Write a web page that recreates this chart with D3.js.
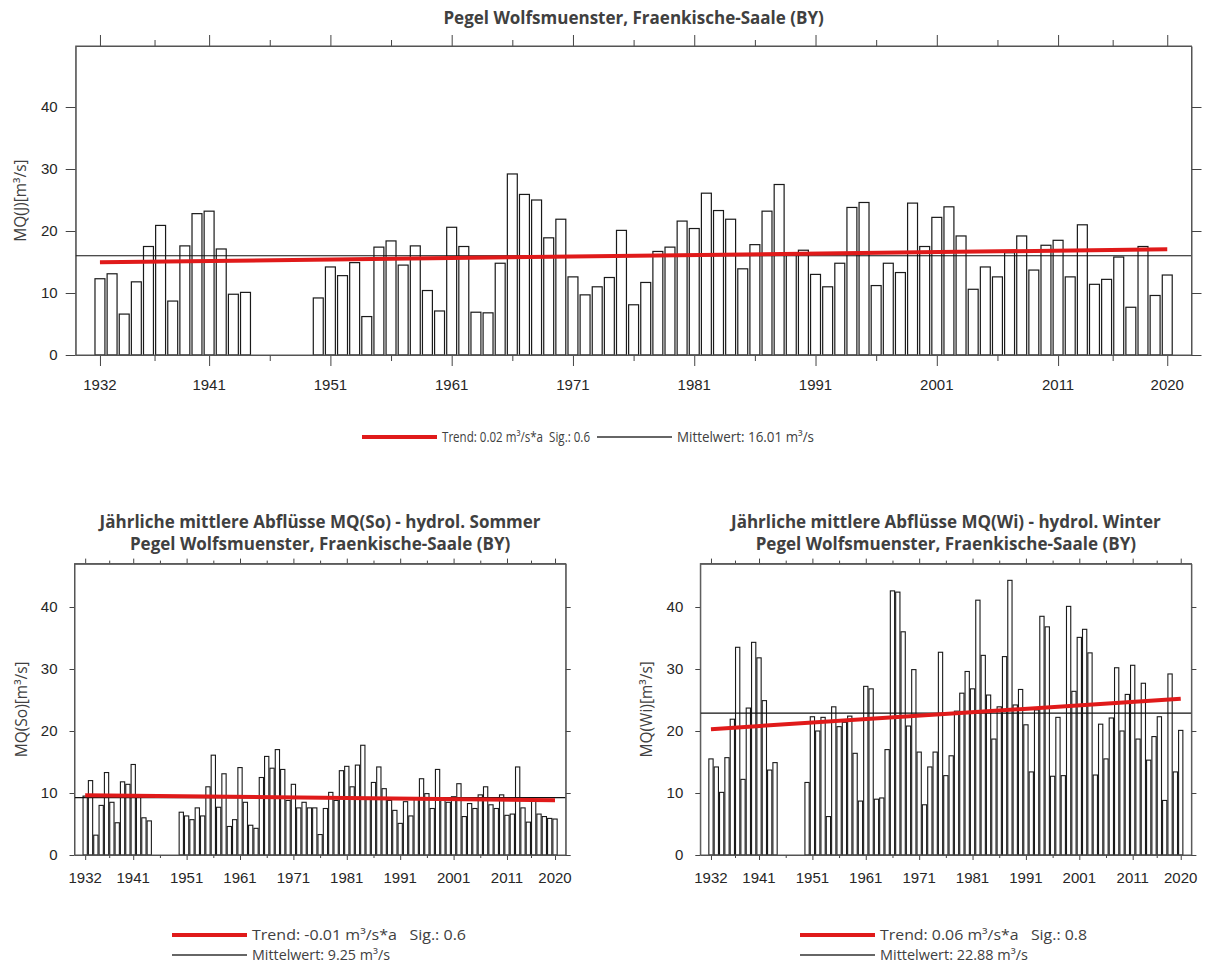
<!DOCTYPE html>
<html><head><meta charset="utf-8">
<script src="https://cdn.jsdelivr.net/npm/d3@7/dist/d3.min.js"></script>
<style>
body{margin:0;background:#fff;}
svg text{font-family:"Liberation Sans",Arial,sans-serif;}
.ttl{font-family:"Open Sans",sans-serif;font-weight:bold;fill:#404040;}
.leg{font-family:"Open Sans",sans-serif;fill:#404040;white-space:pre;}
.yt{font-family:"Open Sans",sans-serif;fill:#404040;}
</style></head><body>
<svg id="c" width="1209" height="967"></svg>
<script>
const years = [1932,1933,1934,1935,1936,1937,1938,1939,1940,1941,1942,1943,1944,
1950,1951,1952,1953,1954,1955,1956,1957,1958,1959,1960,1961,1962,1963,1964,1965,1966,1967,1968,1969,
1970,1971,1972,1973,1974,1975,1976,1977,1978,1979,1980,1981,1982,1983,1984,1985,1986,1987,1988,1989,
1990,1991,1992,1993,1994,1995,1996,1997,1998,1999,2000,2001,2002,2003,2004,2005,2006,2007,2008,2009,
2010,2011,2012,2013,2014,2015,2016,2017,2018,2019,2020];
const mqJ = [12.3,13.1,6.6,11.8,17.5,20.9,8.7,17.6,22.8,23.2,17.1,9.8,10.1,
9.2,14.2,12.8,14.9,6.2,17.4,18.4,14.5,17.6,10.4,7.1,20.6,17.5,6.9,6.8,14.8,29.2,25.9,25.0,18.9,
21.9,12.6,9.7,11.0,12.5,20.1,8.1,11.7,16.7,17.4,21.6,20.4,26.1,23.3,21.9,13.9,17.8,23.2,27.5,16.4,
16.9,13.0,11.0,14.8,23.8,24.6,11.2,14.8,13.3,24.5,17.5,22.2,23.9,19.2,10.6,14.2,12.6,16.5,19.2,13.7,
17.7,18.5,12.6,21.0,11.4,12.2,15.8,7.7,17.5,9.6,12.9];
const mqSo = [9.5,12.0,3.2,8.0,13.3,8.5,5.2,11.8,11.4,14.6,9.5,6.0,5.5,
6.9,6.3,5.7,7.6,6.3,11.0,16.1,7.7,13.1,4.6,5.7,14.1,8.5,4.8,4.3,12.5,15.9,14.0,17.0,13.8,
8.8,11.4,7.6,8.5,7.6,7.6,3.3,7.5,10.1,8.8,13.6,14.3,11.0,14.5,17.7,9.1,11.7,14.2,10.7,8.8,
7.2,5.1,8.6,6.3,9.1,12.3,9.9,7.5,13.8,9.1,8.5,9.4,11.5,6.2,8.3,7.5,9.7,11.0,8.1,7.5,
9.7,6.4,6.6,14.2,7.6,5.3,8.7,6.6,6.2,5.9,5.8];
const mqWi = [15.5,14.2,10.1,15.7,21.9,33.5,12.2,23.7,34.3,31.8,24.9,13.7,14.9,
11.7,22.3,20.0,22.2,6.2,23.9,20.7,21.4,22.4,16.4,8.7,27.2,26.8,9.0,9.2,17.0,42.6,42.4,36.0,20.8,
29.9,16.6,8.1,14.2,16.6,32.7,12.8,16.0,23.2,26.1,29.6,26.8,41.1,32.2,25.8,18.7,23.9,32.0,44.3,24.2,
26.7,21.0,13.4,23.4,38.5,36.8,12.7,22.2,12.8,40.1,26.4,35.1,36.4,32.6,12.9,21.1,15.5,22.1,30.2,20.0,
25.9,30.6,18.7,27.7,15.3,19.1,22.3,8.8,29.2,13.4,20.1];
const trendYears = [1932, 2020];
const trendJ = [14.95, 17.05];
const trendSo = [9.65, 8.85];
const trendWi = [20.3, 25.2];
const meanJ = 16.01, meanSo = 9.25, meanWi = 22.88;
const xMajor = [1932,1941,1951,1961,1971,1981,1991,2001,2011,2020];
const xMinor = [1936.5,1946,1956,1966,1976,1986,1996,2006,2015.5];
const yTicks = [0,10,20,30,40];
const titleTop = "Pegel Wolfsmuenster, Fraenkische-Saale (BY)";
const titleSo = ["Jährliche mittlere Abflüsse MQ(So) - hydrol. Sommer","Pegel Wolfsmuenster, Fraenkische-Saale (BY)"];
const titleWi = ["Jährliche mittlere Abflüsse MQ(Wi) - hydrol. Winter","Pegel Wolfsmuenster, Fraenkische-Saale (BY)"];
const legJ = ["Trend: 0.02 m³/s*a  Sig.: 0.6","Mittelwert: 16.01 m³/s"];
const legSo = ["Trend: -0.01 m³/s*a   Sig.: 0.6","Mittelwert: 9.25 m³/s"];
const legWi = ["Trend: 0.06 m³/s*a   Sig.: 0.8","Mittelwert: 22.88 m³/s"];

const svg = d3.select("#c");
const RED = "#e01a1a";

function panel(o){
  const x = d3.scaleLinear().domain([1930,2022]).range([o.x0,o.x1]);
  const y = d3.scaleLinear().domain([0,o.ymax]).range([o.yb,o.yt]);
  const g = svg.append("g");
  const step = x(1933)-x(1932);
  const bw = step*o.bwf;
  g.selectAll("rect.bar").data(o.vals).enter().append("rect")
    .attr("x",(d,i)=>x(years[i])-bw/2).attr("y",d=>y(d))
    .attr("width",bw).attr("height",d=>y(0)-y(d))
    .attr("fill","#fff").attr("stroke","#1a1a1a").attr("stroke-width",o.sw);
  const mk = (axis, tr, size, ticks)=>{
    const a = g.append("g").attr("transform",tr)
      .call(axis.tickValues(ticks).tickSize(size).tickSizeOuter(0).tickFormat(""));
    a.select(".domain").attr("stroke","#555");
    a.selectAll(".tick line").attr("stroke","#444");
    return a;
  };
  mk(d3.axisBottom(x),`translate(0,${o.yb})`,o.tMaj,xMajor);
  mk(d3.axisBottom(x),`translate(0,${o.yb})`,o.tMin,xMinor);
  mk(d3.axisTop(x),`translate(0,${o.yt})`,o.tMaj,xMajor);
  mk(d3.axisTop(x),`translate(0,${o.yt})`,o.tMin,xMinor);
  mk(d3.axisLeft(y),`translate(${o.x0},0)`,o.tY,yTicks);
  mk(d3.axisRight(y),`translate(${o.x1},0)`,o.tY,yTicks);
  g.selectAll("text.xl").data(xMajor).enter().append("text")
    .attr("x",d=>x(d)).attr("y",o.yb+o.xlabDy).attr("text-anchor","middle")
    .attr("font-size",15).attr("fill","#262626").text(d=>d);
  g.selectAll("text.yl").data(yTicks).enter().append("text")
    .attr("x",o.x0-o.ylabDx).attr("y",d=>y(d)+5).attr("text-anchor","end")
    .attr("font-size",15).attr("fill","#262626").text(d=>d);
  g.append("text").attr("class","yt").attr("transform",`translate(${o.x0-o.ytitDx},${(o.yb+o.yt)/2}) rotate(-90)`)
    .attr("text-anchor","middle").attr("font-size",15.5).text(o.ytitle);
  g.append("line").attr("x1",o.x0).attr("x2",o.x1).attr("y1",y(o.mean)).attr("y2",y(o.mean))
    .attr("stroke","#111").attr("stroke-width",1.2);
  g.append("line").attr("x1",x(trendYears[0])).attr("x2",x(trendYears[1]))
    .attr("y1",y(o.trend[0])).attr("y2",y(o.trend[1]))
    .attr("stroke",RED).attr("stroke-width",4);
  g.append("rect").attr("x",o.x0).attr("y",o.yt).attr("width",o.x1-o.x0).attr("height",o.yb-o.yt)
    .attr("fill","none").attr("stroke","#555").attr("stroke-width",1);
  o.title.forEach((t,i)=>g.append("text").attr("class","ttl").attr("x",(o.x0+o.x1)/2)
    .attr("y",o.titleY+i*22).attr("text-anchor","middle").attr("font-size",17).text(t));
  return {x,y,g};
}

panel({x0:75.7,x1:1191.5,yb:355,yt:46,ymax:49.84,vals:mqJ,bwf:0.82,sw:1.2,tMaj:11,tMin:6,tY:10,
  xlabDy:35,ylabDx:18,ytitDx:50,ytitle:"MQ(J)[m³/s]",mean:meanJ,trend:trendJ,title:[titleTop],titleY:24});
panel({x0:74.5,x1:565.7,yb:855,yt:563.6,ymax:47,vals:mqSo,bwf:0.8,sw:1.1,tMaj:5,tMin:3,tY:5,
  xlabDy:28,ylabDx:17,ytitDx:48,ytitle:"MQ(So)[m³/s]",mean:meanSo,trend:trendSo,title:titleSo,titleY:528});
panel({x0:700.3,x1:1191.4,yb:855,yt:563.6,ymax:47,vals:mqWi,bwf:0.8,sw:1.1,tMaj:5,tMin:3,tY:5,
  xlabDy:28,ylabDx:17,ytitDx:48,ytitle:"MQ(Wi)[m³/s]",mean:meanWi,trend:trendWi,title:titleWi,titleY:528});

function legItem(xl, yl, red, txt, fs, tl){
  svg.append("line").attr("x1",xl).attr("x2",xl+75).attr("y1",yl).attr("y2",yl)
    .attr("stroke",red?RED:"#333").attr("stroke-width",red?4:1.3);
  svg.append("text").attr("class","leg").attr("x",xl+80).attr("y",yl+5)
    .attr("font-size",fs).attr("textLength",tl).attr("lengthAdjust","spacingAndGlyphs").text(txt);
}
legItem(362,437,true,legJ[0],14,148);
legItem(597,437,false,legJ[1],14,137);
legItem(172,935,true,legSo[0],14,214);
legItem(172,955,false,legSo[1],14,138);
legItem(800,935,true,legWi[0],14,207);
legItem(800,955,false,legWi[1],14,148);
</script></body></html>
